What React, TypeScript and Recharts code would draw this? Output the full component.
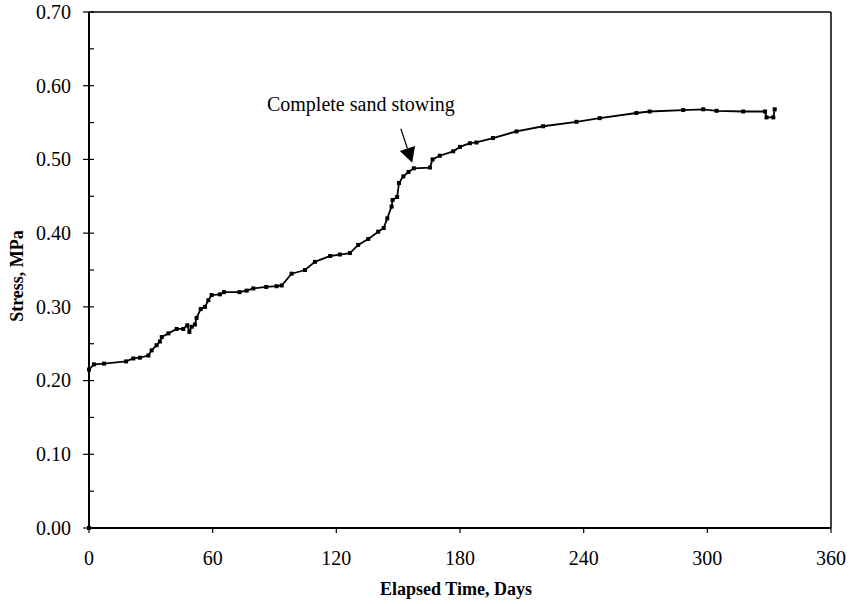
import { Line, LineChart, ReferenceLine, XAxis, YAxis } from "recharts";

const FONT = "'Liberation Serif', 'Times New Roman', serif";

// plot box inside the svg (chart sits at the page's top-left corner)
const PLOT_LEFT = 89;
const PLOT_BOTTOM = 528;

const days = [
  0, 0, 2.4, 7.3, 18, 21.5, 24.7, 28.8, 30.4, 32.8, 34.4, 35.3, 38.5, 42.5, 45.7,
  47.7, 48.7, 49.8, 51.4, 52.2, 54.2, 56.3, 57.9, 59.5, 63.5, 65.5, 73, 76.5, 79.7,
  86, 91, 93.5, 98.3, 104.8, 109.6, 117, 121.7, 126.6, 130.6, 135.5, 140.3, 143,
  144.7, 146.8, 147.3, 149.5, 150.4, 152.5, 155, 157.6, 165.4, 166.7, 170.2, 176.7,
  180, 184.8, 188, 196, 207.4, 220.3, 236.5, 247.8, 265.6, 272, 288.3, 298, 304.5,
  317.4, 328, 328.7, 332, 332.7,
];

const stress = [
  0, 0.215, 0.222, 0.223, 0.226, 0.23, 0.231, 0.234, 0.241, 0.248, 0.253, 0.259,
  0.264, 0.27, 0.27, 0.275, 0.266, 0.273, 0.276, 0.285, 0.297, 0.3, 0.309, 0.316,
  0.317, 0.32, 0.32, 0.322, 0.325, 0.327, 0.328, 0.329, 0.345, 0.35, 0.361, 0.369,
  0.371, 0.373, 0.384, 0.392, 0.402, 0.407, 0.42, 0.436, 0.445, 0.449, 0.468, 0.477,
  0.483, 0.488, 0.489, 0.5, 0.505, 0.511, 0.517, 0.522, 0.523, 0.529, 0.538, 0.545,
  0.551, 0.556, 0.563, 0.565, 0.567, 0.568, 0.566, 0.565, 0.565, 0.557, 0.557, 0.568,
];

const xTicks = [0, 60, 120, 180, 240, 300, 360];
const yTicks = [
  0, 0.05, 0.1, 0.15, 0.2, 0.25, 0.3, 0.35, 0.4, 0.45, 0.5, 0.55, 0.6, 0.65, 0.7,
];

const annotation = { text: "Complete sand stowing", from: { x: 151.3, y: 0.5417 }, to: { x: 156.8, y: 0.4955 } };

const data = days.map((d, i) => ({ day: d, stress: stress[i] }));

function XTick(props: any) {
  const { x, payload } = props;
  return (
    <g>
      <line x1={x} x2={x} y1={PLOT_BOTTOM} y2={PLOT_BOTTOM + 5} stroke="#000" strokeWidth={1.2} />
      <text x={x} y={PLOT_BOTTOM + 37} textAnchor="middle" fontFamily={FONT} fontSize={20} fill="#000">
        {payload.value}
      </text>
    </g>
  );
}

function YTick(props: any) {
  const { y, payload } = props;
  const major = Math.round(payload.value * 100) % 10 === 0;
  return (
    <g>
      <line
        x1={major ? PLOT_LEFT - 6 : PLOT_LEFT}
        x2={PLOT_LEFT + 5}
        y1={y}
        y2={y}
        stroke="#000"
        strokeWidth={1.2}
      />
      {major && (
        <text x={PLOT_LEFT - 18} y={y} dy="0.34em" textAnchor="end" fontFamily={FONT} fontSize={20} fill="#000">
          {payload.value.toFixed(2)}
        </text>
      )}
    </g>
  );
}

function SquareDot(props: any) {
  const { cx, cy } = props;
  if (cx == null || cy == null) return null;
  return <rect x={cx - 2} y={cy - 2} width={4} height={4} fill="#000" />;
}

function ArrowNote(props: any) {
  const { x1, y1, x2, y2 } = props;
  const dx = x2 - x1;
  const dy = y2 - y1;
  const len = Math.sqrt(dx * dx + dy * dy);
  const ux = dx / len;
  const uy = dy / len;
  const headLen = 15;
  const half = 8;
  const bx = x2 - ux * headLen;
  const by = y2 - uy * headLen;
  const pts = `${x2},${y2} ${bx - uy * half},${by + ux * half} ${bx + uy * half},${by - ux * half}`;
  return (
    <g>
      <line x1={x1} y1={y1} x2={bx} y2={by} stroke="#000" strokeWidth={1.2} />
      <polygon points={pts} fill="#000" />
      <text x={x1 - 40} y={y1 - 18} textAnchor="middle" fontFamily={FONT} fontSize={20} fill="#000">
        {annotation.text}
      </text>
    </g>
  );
}

export default function App() {
  return (
    <div style={{ position: "absolute", left: 0, top: 0, width: 850, height: 604, background: "#fff" }}>
      <LineChart
        width={850}
        height={604}
        data={data}
        margin={{ top: 12, right: 19, left: 0, bottom: 0 }}
      >
        <XAxis
          dataKey="day"
          type="number"
          domain={[0, 360]}
          ticks={xTicks}
          interval={0}
          height={76}
          tickLine={false}
          axisLine={{ stroke: "#000", strokeWidth: 2 }}
          tick={<XTick />}
          label={{
            value: "Elapsed Time, Days",
            content: () => (
              <text x={456} y={595} textAnchor="middle" fontFamily={FONT} fontSize={18} fontWeight="bold" fill="#000">
                Elapsed Time, Days
              </text>
            ),
          }}
        />
        <YAxis
          type="number"
          domain={[0, 0.7]}
          ticks={yTicks}
          interval={0}
          width={89}
          tickLine={false}
          axisLine={{ stroke: "#000", strokeWidth: 2 }}
          tick={<YTick />}
          label={{
            value: "Stress, MPa",
            content: () => (
              <text
                x={23}
                y={276}
                transform="rotate(-90 23 276)"
                textAnchor="middle"
                fontFamily={FONT}
                fontSize={18}
                fontWeight="bold"
                fill="#000"
              >
                Stress, MPa
              </text>
            ),
          }}
        />
        <ReferenceLine y={0.7} stroke="#000" strokeWidth={1.5} />
        <ReferenceLine x={360} stroke="#000" strokeWidth={1.5} />
        <Line
          type="linear"
          dataKey="stress"
          stroke="#000"
          strokeWidth={1.8}
          dot={<SquareDot />}
          isAnimationActive={false}
        />
        <ReferenceLine
          segment={[annotation.from, annotation.to]}
          shape={<ArrowNote />}
        />
      </LineChart>
    </div>
  );
}
